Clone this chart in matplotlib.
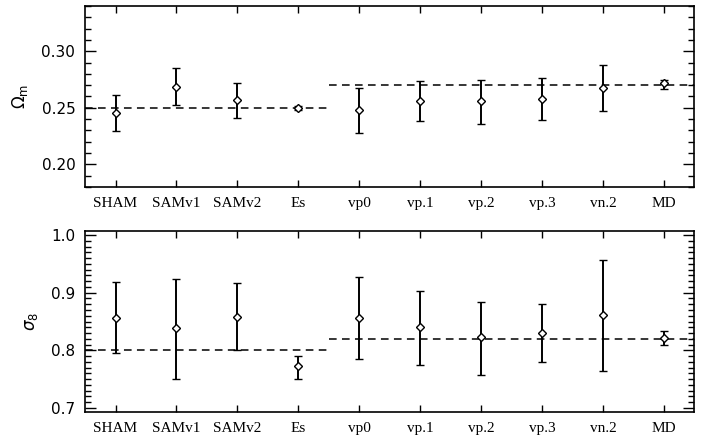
import matplotlib
matplotlib.use('Agg')
import matplotlib.pyplot as plt
import numpy as np
from matplotlib.ticker import MultipleLocator

labels = ['SHAM', 'SAMv1', 'SAMv2', 'Es', 'vp0', 'vp.1', 'vp.2', 'vp.3', 'vn.2', 'MD']

om = [0.2453, 0.2688, 0.2565, 0.2500, 0.2477, 0.2559, 0.2556, 0.2576, 0.2673, 0.2720]
om_hi = [0.2614, 0.2849, 0.2720, 0.2518, 0.2676, 0.2741, 0.2749, 0.2767, 0.2878, 0.2746]
om_lo = [0.2292, 0.2526, 0.2409, 0.2482, 0.2280, 0.2380, 0.2359, 0.2389, 0.2468, 0.2664]

s8 = [0.8556, 0.8383, 0.8583, 0.7720, 0.8567, 0.8406, 0.8228, 0.8306, 0.8617, 0.8217]
s8_hi = [0.9178, 0.9240, 0.9160, 0.7910, 0.9267, 0.9028, 0.8844, 0.8810, 0.9567, 0.8340]
s8_lo = [0.7947, 0.7500, 0.8010, 0.7500, 0.7850, 0.7750, 0.7580, 0.7800, 0.7647, 0.8090]

# fiducial values (first 4 sims vs the rest)
om_true = [0.25, 0.27]
s8_true = [0.80, 0.82]

x = np.arange(len(labels))

fig = plt.figure(figsize=(7.21, 4.43), dpi=100)
ax1 = fig.add_axes([0.118, 0.578, 0.845, 0.4085])
ax2 = fig.add_axes([0.118, 0.070, 0.845, 0.4085])

def panel(ax, y, hi, lo, truth, ylim, major, minor, fmt, ylabel):
    y = np.array(y)
    err = [y - np.array(lo), np.array(hi) - y]
    ax.errorbar(x, y, yerr=err, fmt='D', mfc='white', mec='black', ms=4.5, mew=1,
                ecolor='black', elinewidth=1.4, capsize=3, capthick=1.4, zorder=3)
    ax.plot([-0.5, 3.5], [truth[0], truth[0]], color='black', lw=1.1, dashes=(5, 3.5))
    ax.plot([3.5, 9.5], [truth[1], truth[1]], color='black', lw=1.1, dashes=(5, 3.5))
    ax.set_xlim(-0.5, 9.5)
    ax.set_ylim(*ylim)
    ax.set_xticks(x)
    ax.set_xticklabels(labels, family='Liberation Serif', fontsize=11)
    ax.yaxis.set_major_locator(MultipleLocator(major))
    ax.yaxis.set_minor_locator(MultipleLocator(minor))
    ax.yaxis.set_major_formatter(plt.FormatStrFormatter(fmt))
    ax.tick_params(axis='both', which='major', direction='in', length=8, width=1,
                   top=True, right=True, labelsize=11, pad=7)
    ax.tick_params(axis='x', which='major', length=5, pad=7)
    ax.tick_params(axis='y', which='minor', direction='in', length=4.5, width=1, right=True)
    ax.tick_params(axis='x', which='minor', bottom=False, top=False)
    for s in ax.spines.values():
        s.set_linewidth(1.2)
    ax.set_ylabel(ylabel, fontsize=12, labelpad=8)

panel(ax1, om, om_hi, om_lo, om_true, (0.18, 0.34), 0.05, 0.01, '%.2f', r'$\Omega_{\rm m}$')
panel(ax2, s8, s8_hi, s8_lo, s8_true, (0.693, 1.007), 0.1, 0.01, '%.1f', r'$\sigma_{8}$')

fig.savefig('out.png', dpi=100)
